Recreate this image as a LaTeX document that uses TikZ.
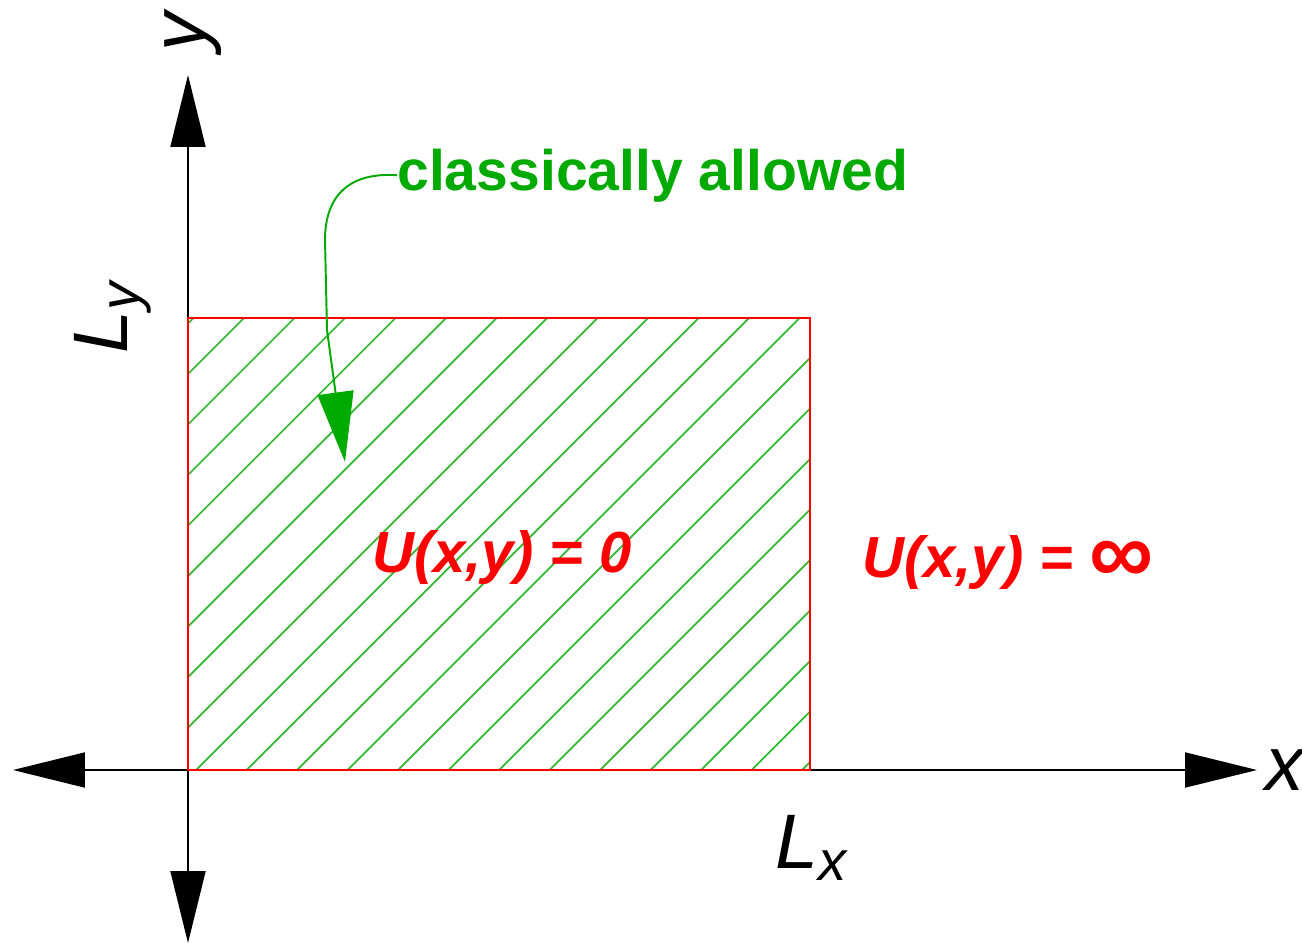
\documentclass[tikz,border=0pt]{standalone}
\usepackage{fontspec}
\setmainfont{Liberation Sans}
\definecolor{wallred}{HTML}{FF0000}
\definecolor{notegreen}{HTML}{00AA00}
\definecolor{hatchgreen}{HTML}{30B830}
\usetikzlibrary{arrows.meta,positioning}

\begin{document}
\begin{tikzpicture}[
    x=0.02cm, y=-0.02cm,
    axis/.style={{Triangle[length=14.4mm,width=7mm]}-{Triangle[length=14.4mm,width=7mm]}, line width=1.1pt},
    hatch/.style={hatchgreen, line width=1pt},
    well/.style={draw=wallred, line width=1.2pt},
    axislabel/.style={inner sep=0pt, font=\fontsize{44}{50}\selectfont\itshape},
    note/.style={inner sep=0pt, text=notegreen, font=\fontsize{32.5}{40}\selectfont\bfseries},
    pot/.style={inner sep=0pt, text=wallred, font=\fontsize{33}{40}\selectfont\bfseries\itshape},
    callout/.style={-{Triangle[length=14mm,width=7.2mm]}, notegreen, line width=1.1pt}
    ]
    \useasboundingbox (0,0) rectangle (1302,943);
    \coordinate (O) at (188,770);
    \coordinate (C) at (810,318);
    \coordinate (xmin) at (13,770);
    \coordinate (xmax) at (1257,770);
    \coordinate (ymin) at (188,943);
    \coordinate (ymax) at (188,75);
    \coordinate (tip) at (345,462);
    \draw[axis] (xmin) -- (xmax);
    \draw[axis] (ymin) -- (ymax);
    \begin{scope}
      \clip (O) rectangle (C);
      \foreach \k in {-9,...,12}
        \draw[hatch] ({966+50.5*\k-770},770) -- ({966+50.5*\k-318},318);
    \end{scope}
    \draw[well] (O) rectangle (C);
    \node[axislabel, rotate=90] (ylab) at (193,32) {y};
    \node[axislabel, anchor=west] (xlab) at (1265,770) {x};
    \node[axislabel, rotate=90] (Ly) at (113,318) {L\raisebox{-0.3ex}{\fontsize{32}{32}\selectfont y}};
    \node[axislabel] (Lx) at (811,848) {L\raisebox{-0.3ex}{\fontsize{32}{32}\selectfont x}};
    \node[note, anchor=base west] (ca) at (397,190) {classically allowed};
    \node[pot, anchor=base west] (u0) at (372,572) {U(x,y) = 0};
    \node[pot, anchor=base west] (uinf) at (862,577) {U(x,y) = \raisebox{-0.2ex}{\scalebox{1.55}{\upshape ∞}}};
    \draw[callout] (ca.west) .. controls (350,172) and (325,195) .. (325,240) -- (327,330) -- (tip);
  \end{tikzpicture}
\end{document}
